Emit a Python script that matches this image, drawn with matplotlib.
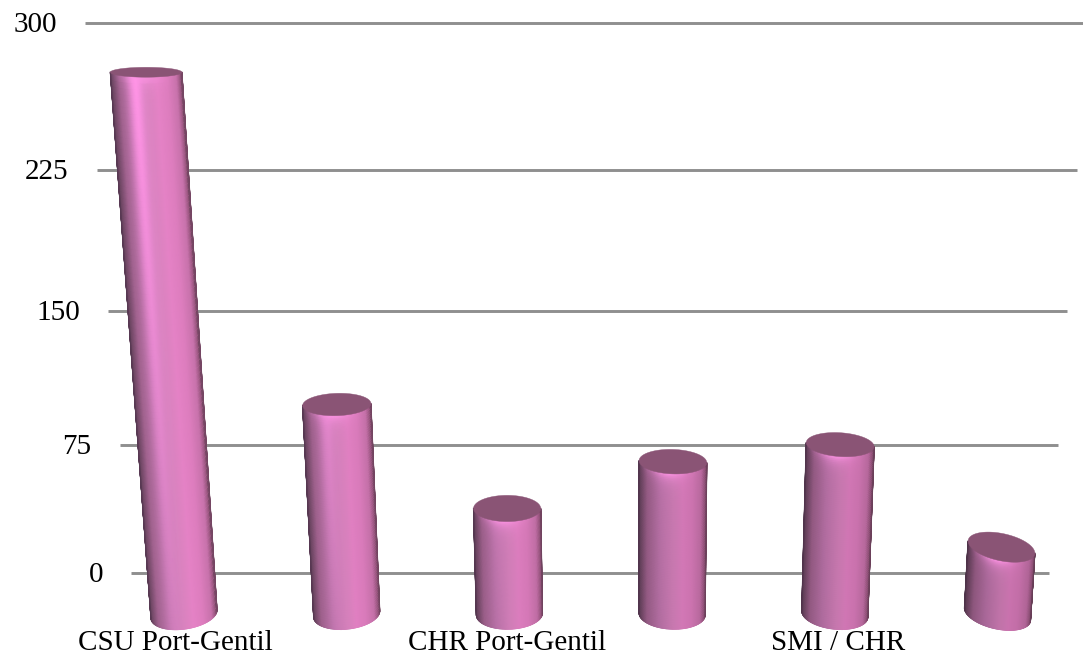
import numpy as np
import matplotlib
matplotlib.use("Agg")
import matplotlib.pyplot as plt
from matplotlib.collections import LineCollection

# datos
categorias = ["CSU Port-Gentil", "", "CHR Port-Gentil", "", "SMI / CHR", ""]
valores = [277, 113, 58, 83, 92, 37]
ticks = [0, 75, 150, 225, 300]

# estilo de cada barra
brillo = [1.0, 0.5, 0.12, 0.08, 0.05, 0.03]
cuerpo = [1.02, 1.0, 0.98, 0.94, 0.93, 0.9]
giro_abajo = [-4, -3, -1, 1, 3, 6]
giro_arriba = [0, -1, 0, 1, 2, 6]
color_tapa = np.array([0.54, 0.33, 0.46])
color_brillo = np.array([1.0, 0.58, 0.90])

# constantes de la perspectiva (en pixeles)
W, H = 1083, 658
Y_CERO = 573
HORIZONTE = 23
K_FRENTE = (614 - HORIZONTE) / (Y_CERO - HORIZONTE)
X0_PX = 640
X_BAR0 = 184
PASO = 162.7
RX = 33
A, B = 1.66, 0.000578


def forward(v):
    v = np.asarray(v, dtype=float)
    return A * v + B * v * v


def inverse(h):
    h = np.asarray(h, dtype=float)
    return (-A + np.sqrt(np.maximum(A * A + 4 * B * h, 0))) / (2 * B)


def py_a_valor(py):
    return inverse(Y_CERO - np.asarray(py, dtype=float))


def px_a_x(px):
    return (np.asarray(px, dtype=float) - X_BAR0) / PASO


def escala(v):
    return 1 + 0.0003 * v


def y_frente(v):
    # pixel y del centro de la elipse en el plano de las barras
    return HORIZONTE + (Y_CERO - forward(v) - HORIZONTE) * K_FRENTE


def semi_menor(py):
    return 3.6 + 0.0187 * py


def sombra(u):
    xs = [-1.0, -0.95, -0.75, -0.4, 0.0, 0.3, 0.6, 0.85, 0.96, 1.0]
    r = [0.34, 0.42, 0.62, 0.73, 0.83, 0.88, 0.85, 0.77, 0.60, 0.45]
    g = [0.22, 0.27, 0.38, 0.45, 0.50, 0.50, 0.48, 0.44, 0.34, 0.27]
    b = [0.32, 0.38, 0.55, 0.66, 0.73, 0.76, 0.73, 0.66, 0.50, 0.38]
    return np.stack([np.interp(u, xs, r), np.interp(u, xs, g), np.interp(u, xs, b)], axis=-1)


def cilindro(ax, i, valor):
    off = X_BAR0 + i * PASO - X0_PX
    s = escala(valor)
    cy0, cy1 = y_frente(0), y_frente(valor)
    cx0, cx1 = X0_PX + off, X0_PX + off * s

    u = np.sin(np.linspace(-np.pi / 2, np.pi / 2, 121))
    t = np.linspace(0, 1, 90)
    uu, tt = np.meshgrid(u, t)
    cx = cx0 + (cx1 - cx0) * tt
    cy = cy0 + (cy1 - cy0) * tt
    rx = RX * (1 + (s - 1) * tt)
    bb = semi_menor(cy)
    giro = giro_abajo[i] + (giro_arriba[i] - giro_abajo[i]) * tt
    px = cx + rx * uu
    py = cy + bb * np.sqrt(np.maximum(1 - uu * uu, 0)) + giro * uu

    # color en cada vertice
    col = sombra(uu) * cuerpo[i]
    # franja de brillo vertical
    fr = brillo[i] * np.exp(-((uu + 0.3) / 0.22) ** 2) * (0.2 + 0.8 * tt)
    col = col + (color_brillo - col) * fr[..., None]
    # reflejo bajo la tapa
    alto_px = (cy0 - cy1) * (1 - tt)
    rim = np.exp(-alto_px / 6.0) * np.exp(-((uu + 0.1) / 0.5) ** 2) * 0.9
    col = col + (color_brillo - col) * rim[..., None]
    col = np.clip(col, 0, 1)
    ax.pcolormesh(px_a_x(px), py_a_valor(py), col, shading="gouraud", zorder=3)

    # bordes para suavizar el contorno
    ax.plot(px_a_x(px[:, 0]), py_a_valor(py[:, 0]), color=col[45, 0], lw=0.9, zorder=3.5)
    ax.plot(px_a_x(px[:, -1]), py_a_valor(py[:, -1]), color=col[45, -1], lw=0.9, zorder=3.5)
    xb, yb = px_a_x(px[0, :]), py_a_valor(py[0, :])
    tramos = [[(xb[k], yb[k]), (xb[k + 1], yb[k + 1])] for k in range(len(xb) - 1)]
    ax.add_collection(LineCollection(tramos, colors=col[0, :-1], linewidths=0.8, zorder=3.5), autolim=False)

    # tapa
    a = np.linspace(0, 2 * np.pi, 120)
    b1 = semi_menor(cy1)
    tx = cx1 + RX * s * np.cos(a)
    ty = cy1 + b1 * np.sin(a) + giro_arriba[i] * np.cos(a)
    ax.fill(px_a_x(tx), py_a_valor(ty), color=color_tapa, lw=0.3, zorder=4)


plt.rcParams["font.family"] = ["Liberation Serif", "DejaVu Serif"]
fig = plt.figure(figsize=(W / 100, H / 100), dpi=100)
ax = fig.add_axes([0, 0, 1, 1])
ax.set_yscale("function", functions=(forward, inverse))
ax.set_xlim(px_a_x(0), px_a_x(W))
ax.set_ylim(py_a_valor(H), py_a_valor(0))
ax.axis("off")

# lineas de la cuadricula
for t in ticks:
    s = escala(t)
    izq = X0_PX + (131 - X0_PX) * s
    der = X0_PX + (1049 - X0_PX) * s
    ax.plot(px_a_x([izq, der]), [t, t], color="#8f8f8f", lw=2.1, solid_capstyle="butt", zorder=1)
    py = Y_CERO - forward(t)
    ax.text(px_a_x(izq - 28), py_a_valor(py + 2), str(t), ha="right", va="center", fontsize=21, color="black")

for i, v in enumerate(valores):
    cilindro(ax, i, v)

# etiquetas de categoria
for i, c in enumerate(categorias):
    if c:
        xt = X0_PX + (X_BAR0 + i * PASO - X0_PX) * 1.018
        ax.text(px_a_x(xt), py_a_valor(643), c, ha="center", va="center", fontsize=21, color="black", zorder=5)

fig.savefig("out.png", dpi=100, facecolor="white")
